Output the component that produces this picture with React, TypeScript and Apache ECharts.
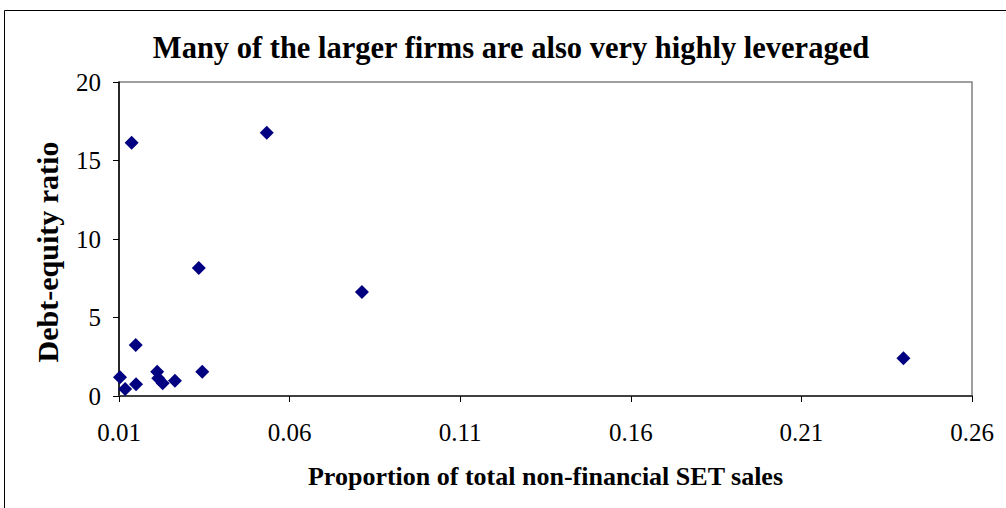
import React, { useEffect, useRef } from "react";
import * as echarts from "echarts";

const titleText = "Many of the larger firms are also very highly leveraged";
const xAxisName = "Proportion of total non-financial SET sales";
const yAxisName = "Debt-equity ratio";
const xShare = [0.0103, 0.0118, 0.015, 0.0149, 0.0137, 0.0212, 0.0215, 0.0228, 0.0264, 0.0344, 0.0334, 0.0533, 0.0812, 0.2399];
const debtEquity = [1.19, 0.45, 0.75, 3.25, 16.13, 1.55, 1.13, 0.81, 0.97, 1.55, 8.15, 16.77, 6.62, 2.4];

const FONT = "'Liberation Serif', 'Times New Roman', serif";

export default function App() {
  const ref = useRef<HTMLDivElement>(null);
  useEffect(() => {
    const chart = echarts.init(ref.current!, null, { renderer: "svg" });
    chart.setOption({
      animation: false,
      backgroundColor: "#ffffff",
      title: {
        text: titleText,
        left: 506,
        top: 27,
        textAlign: "center",
        textStyle: { fontFamily: FONT, fontSize: 30.5, fontWeight: "bold", color: "#000" },
      },
      graphic: [
        {
          type: "rect",
          shape: { x: 4.5, y: 10.5, width: 1010, height: 510 },
          style: { fill: "none", stroke: "#000", lineWidth: 1 },
          silent: true,
        },
        {
          type: "rect",
          shape: { x: 119, y: 82, width: 853, height: 314 },
          style: { fill: "none", stroke: "#808080", lineWidth: 1.5 },
          silent: true,
        },
      ],
      grid: { left: 119, right: 34, top: 82, bottom: 112, containLabel: false },
      xAxis: {
        type: "value",
        min: 0.01,
        max: 0.26,
        interval: 0.05,
        name: xAxisName,
        nameLocation: "middle",
        nameGap: 67,
        nameTextStyle: { fontFamily: FONT, fontSize: 26, fontWeight: "bold", color: "#000" },
        axisLine: { show: true, lineStyle: { color: "#404040", width: 2 } },
        axisTick: { show: true, inside: false, length: 6, lineStyle: { color: "#000", width: 1 } },
        axisLabel: {
          fontFamily: FONT,
          fontSize: 25,
          color: "#000",
          margin: 24,
          formatter: (v: number) => v.toFixed(2),
        },
        splitLine: { show: false },
      },
      yAxis: {
        type: "value",
        min: 0,
        max: 20,
        interval: 5,
        name: yAxisName,
        nameLocation: "middle",
        nameGap: 57,
        nameTextStyle: {
          fontFamily: FONT,
          fontSize: 30,
          fontWeight: "bold",
          color: "#000",
          padding: [0, 26, 0, 0],
        },
        axisLine: { show: true, lineStyle: { color: "#000", width: 1.5 } },
        axisTick: { show: true, inside: false, length: 6, lineStyle: { color: "#000", width: 1 } },
        axisLabel: { fontFamily: FONT, fontSize: 25, color: "#000", margin: 18 },
        splitLine: { show: false },
      },
      series: [
        {
          type: "scatter",
          data: xShare.map((x, i) => [x, debtEquity[i]]),
          symbol: "diamond",
          symbolSize: 14,
          itemStyle: { color: "#000080", opacity: 1 },
        },
      ],
    });
    return () => chart.dispose();
  }, []);
  return <div ref={ref} style={{ width: 1006, height: 508, position: "absolute", left: 0, top: 0 }} />;
}
